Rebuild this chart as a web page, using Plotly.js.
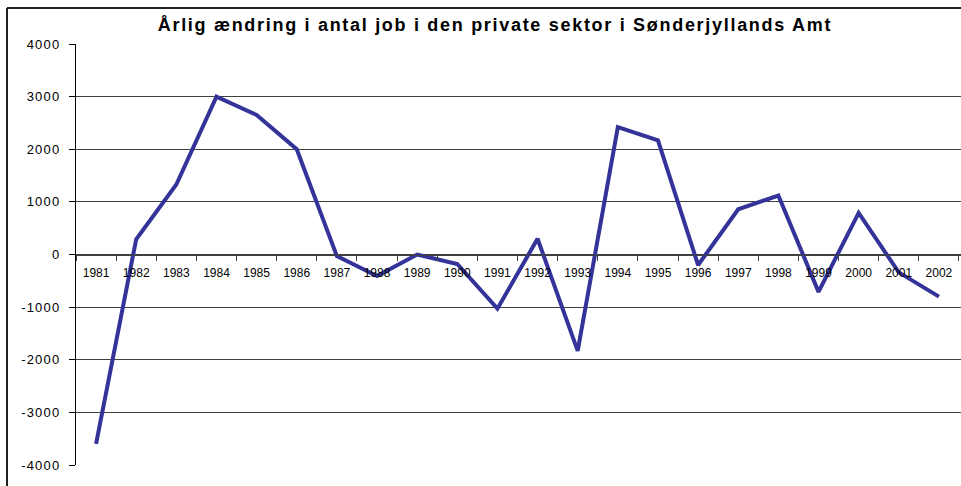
<!DOCTYPE html>
<html>
<head>
<meta charset="utf-8">
<script src="https://cdn.plot.ly/plotly-3.0.1.min.js"></script>
<style>
  html, body { margin: 0; padding: 0; background: #ffffff; }
  #chart { width: 961px; height: 486px; }
  #chart .gtitle { letter-spacing: 1.7px; }
  #chart .ytick text { letter-spacing: 1.2px; }
</style>
</head>
<body>
<div id="chart"></div>
<script>
const chartTitle = "Årlig ændring i antal job i den private sektor i Sønderjyllands Amt";
const years = ["1981","1982","1983","1984","1985","1986","1987","1988","1989","1990","1991",
               "1992","1993","1994","1995","1996","1997","1998","1999","2000","2001","2002"];
const jobChange = [-3600, 290, 1330, 3000, 2650, 2000, -30, -410, 0, -180, -1030,
                   300, -1830, 2420, 2170, -200, 860, 1120, -710, 790, -340, -800];
const yTickValues = [-4000, -3000, -2000, -1000, 0, 1000, 2000, 3000, 4000];

const fontFamily = "Arial, 'Liberation Sans', sans-serif";

const trace = {
  type: "scatter",
  mode: "lines",
  x: years,
  y: jobChange,
  line: { color: "#333399", width: 4 },
  hoverinfo: "x+y",
  showlegend: false
};

const layout = {
  width: 961,
  height: 486,
  paper_bgcolor: "#ffffff",
  plot_bgcolor: "#ffffff",
  margin: { l: 76, r: 0, t: 44, b: 20.5, pad: 0 },
  font: { family: fontFamily, size: 12, color: "#000000" },
  title: {
    text: "<b>" + chartTitle + "</b>",
    font: { family: fontFamily, size: 18, color: "#000000" },
    xref: "container", yref: "container",
    x: 0.515, xanchor: "center",
    y: 1 - 25 / 486, yanchor: "middle"
  },
  xaxis: {
    type: "category",
    range: [-0.5, 21.55],
    anchor: "free",
    position: 0.5,
    showline: true,
    linecolor: "#404040",
    linewidth: 1,
    ticks: "outside",
    tickson: "boundaries",
    ticklen: 5,
    tickcolor: "#404040",
    showgrid: false,
    zeroline: false,
    ticklabelstandoff: 7,
    tickfont: { family: fontFamily, size: 12, color: "#000000" },
    tickangle: 0,
    fixedrange: true
  },
  yaxis: {
    range: [-4000, 4000],
    tickvals: yTickValues,
    ticktext: yTickValues.map(String),
    showline: true,
    linecolor: "#000000",
    linewidth: 1,
    ticks: "outside",
    ticklen: 6,
    tickcolor: "#000000",
    showgrid: true,
    gridcolor: "#404040",
    gridwidth: 1,
    zeroline: false,
    ticklabelstandoff: 6,
    tickfont: { family: fontFamily, size: 13, color: "#000000" },
    fixedrange: true
  },
  shapes: [
    { type: "line", xref: "paper", yref: "paper",
      x0: (7 - 76) / 885, x1: 1.01, y0: (486 - 20.5 - 8) / 421.5, y1: (486 - 20.5 - 8) / 421.5,
      line: { color: "#202020", width: 2 } },
    { type: "line", xref: "paper", yref: "paper",
      x0: (7 - 76) / 885, x1: (7 - 76) / 885, y0: (486 - 20.5 - 8) / 421.5, y1: -0.2,
      line: { color: "#202020", width: 2 } }
  ]
};

Plotly.newPlot("chart", [trace], layout, { displayModeBar: false, staticPlot: true });
</script>
</body>
</html>
